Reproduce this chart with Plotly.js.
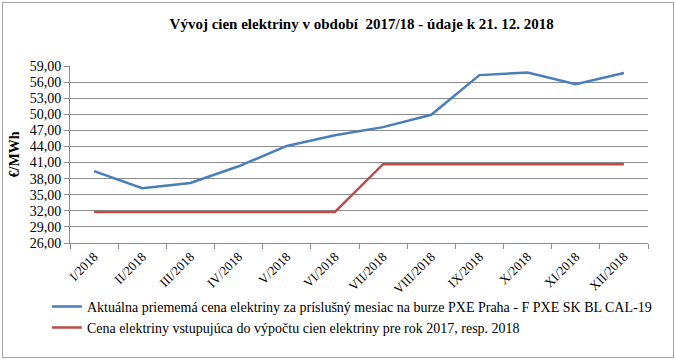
<!DOCTYPE html>
<html>
<head>
<meta charset="utf-8">
<script src="https://cdn.plot.ly/plotly-3.0.1.min.js"></script>
<style>
  html, body { margin: 0; padding: 0; background: #fff; }
  #wrap { position: relative; width: 676px; height: 360px; }
  #chart { width: 676px; height: 360px; }
  #frame { position: absolute; left: 2px; top: 2px; width: 670px; height: 354px;
           border: 1px solid #a6a6a6; pointer-events: none; }
</style>
</head>
<body>
<div id="wrap">
  <div id="chart"></div>
  <div id="frame"></div>
</div>
<script>
const months = ["I/2018","II/2018","III/2018","IV/2018","V/2018","VI/2018",
                "VII/2018","VIII/2018","IX/2018","X/2018","XI/2018","XII/2018"];
const marketPrice = [39.4, 36.2, 37.2, 40.3, 44.1, 46.1, 47.6, 49.9, 57.3, 57.8, 55.6, 57.7];
const targetPrice = [31.8, 31.8, 31.8, 31.8, 31.8, 31.8, 40.7, 40.7, 40.7, 40.7, 40.7, 40.7];
const seriesNames = [
  "Aktuálna priememá cena elektriny za príslušný mesiac na burze PXE Praha - F PXE SK BL CAL-19",
  "Cena elektriny vstupujúca do výpočtu cien elektriny pre rok 2017, resp. 2018"
];
const yTicks = [26,29,32,35,38,41,44,47,50,53,56,59];

const serif = "'Liberation Serif', 'Times New Roman', serif";
const grid = "#8c8c8c";

const traces = [
  { x: months, y: marketPrice, type: "scatter", mode: "lines", name: seriesNames[0],
    line: { color: "#4a7ebb", width: 2.5 } },
  { x: months, y: targetPrice, type: "scatter", mode: "lines", name: seriesNames[1],
    line: { color: "#be4b48", width: 2.5 } }
];

const layout = {
  width: 676, height: 360,
  margin: { l: 70, r: 28, t: 66, b: 117 },
  paper_bgcolor: "#fff", plot_bgcolor: "#fff",
  separators: ",.",
  font: { family: serif, color: "#000" },
  title: { text: "<b>Vývoj cien elektriny v období \u00a02017/18 - údaje k 21. 12. 2018</b>",
           font: { family: serif, size: 15, color: "#000" },
           x: 0.535, xanchor: "center", y: 0.935, yanchor: "middle" },
  xaxis: {
    type: "category", tickson: "boundaries", ticks: "outside", ticklen: 5, tickcolor: grid,
    showline: true, linecolor: grid, linewidth: 1, showgrid: false,
    tickangle: -45, tickfont: { family: serif, size: 13, color: "#000" },
    range: [-0.5, 11.5], fixedrange: true
  },
  yaxis: {
    range: [26, 59], tickvals: yTicks, tickformat: ".2f",
    ticks: "outside", ticklen: 5, tickcolor: grid,
    showline: true, linecolor: grid, linewidth: 1,
    showgrid: true, gridcolor: grid, gridwidth: 1, zeroline: false,
    tickfont: { family: serif, size: 14, color: "#000" },
    title: { text: "<b>€/MWh</b>", font: { family: serif, size: 14, color: "#000" }, standoff: 6 },
    fixedrange: true
  },
  showlegend: true,
  legend: {
    orientation: "v", x: -0.04, xanchor: "left", y: -0.27, yanchor: "top",
    font: { family: serif, size: 14, color: "#000" },
    bgcolor: "rgba(0,0,0,0)", itemwidth: 30, tracegroupgap: 0
  }
};

Plotly.newPlot("chart", traces, layout, { displayModeBar: false, staticPlot: true });
</script>
</body>
</html>
